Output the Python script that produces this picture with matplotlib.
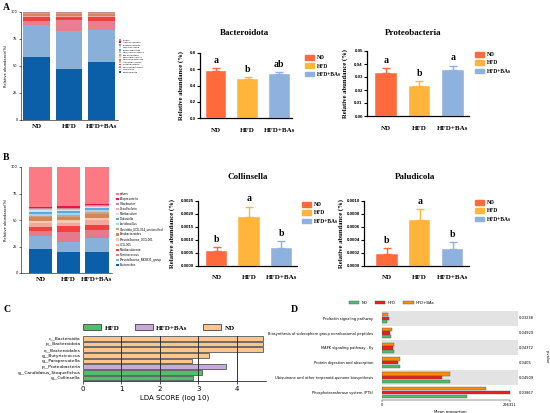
import matplotlib
matplotlib.use('Agg')
import matplotlib.pyplot as plt
import matplotlib.patches as mpatches
from matplotlib.ticker import FixedLocator
import numpy as np

# ---------------- data ----------------
groups = ['ND', 'HFD', 'HFD+BAs']
group_colors = ['#ff6a3d', '#ffb43c', '#8fb1dd']

# Panel A stacked (phylum), bottom -> top
phyla = ['Bacteroidota', 'Firmicutes', 'Desulfobacterota', 'Proteobacteria',
         'Actinobacteriota', 'Campilobacterota', 'Deferribacterota', 'Spirochaetota',
         'Verrucomicrobiota', 'Patescibacteria', 'Cyanobacteria', 'Elusimicrobiota',
         'Acidobacteriota', 'others']
phyla_nd = [58.4, 29.2, 4.0, 4.0, 1.0, 1.2, 0.4, 0.5, 0.3, 0.2, 0.2, 0.2, 0.2, 0.2]
phyla_hfd = [47.5, 34.8, 10.2, 3.1, 0.7, 1.5, 0.4, 0.5, 0.3, 0.2, 0.2, 0.2, 0.2, 0.2]
phyla_bas = [54.0, 29.0, 8.6, 4.0, 1.0, 1.2, 0.4, 0.5, 0.3, 0.2, 0.2, 0.2, 0.2, 0.2]
phyla_colors = ['#0b5fa8', '#89b0d8', '#e87f8f', '#f23f3d', '#f6a79c', '#d4855c',
                '#f6c8ae', '#c7a57f', '#a9d0ec', '#5aa9de', '#cfe2f0', '#c9879a',
                '#e0194a', '#f7707f']

# Panel B stacked (genus), bottom -> top
genera = ['Bacteroides', 'Prevotellaceae_NK3B31_group', 'Ruminococcus', 'Muribaculaceae',
          'UCG-005', 'Prevotellaceae_UCG-001', 'Parabacteroides',
          'Clostridia_UCG-014_unclassified', 'Lactobacillus', 'Dubosiella', 'Muribaculum',
          'Desulfovibrio', 'Odoribacter', 'Alloprevotella', 'others']
genera_nd = [22.5, 12.5, 4.5, 4.0, 3.5, 2.0, 3.5, 1.5, 2.0, 1.5, 1.5, 1.0, 1.0, 1.5, 37.5]
genera_hfd = [20.0, 9.7, 9.3, 5.0, 3.5, 2.5, 3.0, 1.5, 2.0, 2.0, 1.0, 1.0, 1.0, 1.5, 37.0]
genera_bas = [19.5, 13.5, 8.0, 4.0, 5.0, 2.0, 4.0, 1.5, 2.0, 2.0, 1.0, 1.0, 0.5, 1.5, 34.5]
genera_colors = ['#0b5fa8', '#89b0d8', '#e57a8c', '#f2413f', '#f6a79c', '#f6c8ae',
                 '#d4855c', '#c7a57f', '#a9d0ec', '#5aa9de', '#cfe2f0', '#f0b0b8',
                 '#c9879a', '#e0194a', '#fb7a84']

# Bar charts
bact_vals = [0.582, 0.476, 0.540]
bact_errs = [0.033, 0.024, 0.025]
bact_letters = ['a', 'b', 'ab']

prot_vals = [0.0333, 0.0233, 0.0354]
prot_errs = [0.0034, 0.0036, 0.0033]
prot_letters = ['a', 'b', 'a']

coll_vals = [0.00056, 0.00187, 0.00067]
coll_errs = [0.00017, 0.00041, 0.00028]
coll_letters = ['b', 'a', 'b']

palu_vals = [0.000176, 0.000706, 0.000258]
palu_errs = [0.000094, 0.000164, 0.000102]
palu_letters = ['b', 'a', 'b']

# Panel C LDA
lda_names = ['c__Bacteroidia', 'p__Bacteroidota', 'o__Bacteroidales', 'g__Butyricicoccus',
             'g__Paraprevotella', 'p__Proteobacteria', 'g__Candidatus_Stoquefichus',
             'g__Collinsella']
lda_vals = [4.67, 4.67, 4.67, 3.27, 2.84, 3.72, 3.09, 2.86]
lda_groups = ['ND', 'ND', 'ND', 'ND', 'ND', 'HFD+BAs', 'HFD', 'HFD']
lda_legend = ['HFD', 'HFD+BAs', 'ND']
lda_colors = {'HFD': '#4fbf6e', 'HFD+BAs': '#c9a9db', 'ND': '#ffc68c'}

# Panel D KEGG
kegg_names = ['Prolactin signaling pathway',
              'Biosynthesis of siderophore group nonribosomal peptides',
              'MAPK signaling pathway - fly',
              'Protein digestion and absorption',
              'Ubiquinone and other terpenoid-quinone biosynthesis',
              'Phosphotransferase system (PTS)']
kegg_nd = [12930, 21480, 29100, 42960, 157050, 197700]
kegg_hfd = [17550, 19170, 25400, 36950, 139260, 296300]
kegg_bas = [15240, 23100, 29100, 42260, 157740, 240200]
kegg_p = ['0.03238', '0.04929', '0.04372', '0.0405', '0.04509', '0.03867']
kegg_tick = 296311
kegg_colors = {'ND': '#4fbf6e', 'HFD': '#f01c1c', 'HFD+BAs': '#ff8c00'}

# ---------------- layout ----------------
W, H = 550, 413
fig = plt.figure(figsize=(5.5, 4.13), dpi=100)
fig.patch.set_facecolor('white')
SERIF = 'Liberation Serif'
SANS = 'Liberation Sans'


def box(x0, y0, x1, y1):
    return [x0 / W, 1 - y1 / H, (x1 - x0) / W, (y1 - y0) / H]


def fx(x):
    return x / W


def fy(y):
    return 1 - y / H


# panel letters
for lab, (x, y) in zip('ABCD', [(3, 8), (3, 158), (3, 309), (291, 309)]):
    fig.text(fx(x), fy(y), lab, fontsize=7, fontweight='bold', family=SERIF,
             va='center', ha='left')


def stacked(b, names, series, colors, xlim, leg_xy, leg_fs, leg_sp):
    ax = fig.add_axes(box(*b))
    bottom = np.zeros(3)
    handles = []
    for i, name in enumerate(names):
        v = np.array([s[i] for s in series])
        h = ax.bar(range(3), v, bottom=bottom, width=0.82, color=colors[i], label=name)
        handles.append(h)
        bottom += v
    ax.set_ylim(0, 100)
    ax.set_xlim(*xlim)
    ax.set_yticks([0, 25, 50, 75, 100])
    ax.tick_params(axis='y', labelsize=2.5, length=1.5, width=0.4, pad=1)
    ax.set_xticks(range(3))
    ax.set_xticklabels(groups, fontsize=5, fontweight='bold', family=SERIF)
    ax.tick_params(axis='x', length=0, pad=3)
    for s in ['top', 'right']:
        ax.spines[s].set_visible(False)
    for s in ['left', 'bottom']:
        ax.spines[s].set_linewidth(0.4)
    ax.set_ylabel('Relative abundance(%)', fontsize=2.6, labelpad=2)
    ax.legend(handles[::-1], names[::-1], loc='upper left',
              bbox_to_anchor=(fx(leg_xy[0]), fy(leg_xy[1])),
              bbox_transform=fig.transFigure, frameon=False, fontsize=leg_fs,
              handlelength=1.0, handleheight=0.8, labelspacing=leg_sp,
              handletextpad=0.5, borderpad=0, borderaxespad=0)
    return ax


stacked((21, 12, 118, 120), phyla, [phyla_nd, phyla_hfd, phyla_bas], phyla_colors,
        (-0.48, 2.51), (119, 39), 1.7, 0.28)
stacked((21, 167, 112, 273), genera, [genera_nd, genera_hfd, genera_bas], genera_colors,
        (-0.69, 2.53), (116, 192), 2.0, 0.38)


def barchart(b, vals, errs, letters, ymax, yticks, fmt, title, title_xy, xlim,
             ylabel_x, leg_xy):
    ax = fig.add_axes(box(*b))
    x = np.arange(3)
    for i in range(3):
        ax.bar(x[i], vals[i], width=0.65, color=group_colors[i], edgecolor='white',
               linewidth=0.3, label=groups[i], zorder=2)
        ax.errorbar(x[i], vals[i], yerr=[[0], [errs[i]]], fmt='none',
                    ecolor=group_colors[i], elinewidth=1.0, capsize=3.2,
                    capthick=1.0, zorder=3)
        ax.text(x[i], vals[i] + errs[i] + ymax * 0.05, letters[i], ha='center',
                va='bottom', fontsize=7, fontweight='bold', family=SERIF)
    ax.set_ylim(0, ymax)
    ax.set_xlim(*xlim)
    ax.set_yticks(yticks)
    ax.set_yticklabels([fmt.format(t) for t in yticks], fontsize=3.2,
                       fontweight='bold', family=SANS)
    ax.tick_params(axis='y', length=2, width=0.8, pad=1)
    ax.set_xticks(x)
    ax.set_xticklabels(groups, fontsize=5, fontweight='bold', family=SERIF)
    ax.tick_params(axis='x', length=0, pad=7)
    ax.xaxis.set_minor_locator(FixedLocator([1]))
    ax.tick_params(axis='x', which='minor', length=2, width=0.8)
    for s in ['top', 'right']:
        ax.spines[s].set_visible(False)
    for s in ['left', 'bottom']:
        ax.spines[s].set_linewidth(0.9)
    ax.set_ylabel('Relative abundance (%)', fontsize=4.8, fontweight='bold', family=SERIF)
    ax.yaxis.set_label_coords((ylabel_x - b[0]) / (b[2] - b[0]), 0.5)
    fig.text(fx(title_xy[0]), fy(title_xy[1]), title, ha='center', va='center',
             fontsize=6.5, fontweight='bold', family=SERIF)
    handles = [mpatches.Patch(color=c) for c in group_colors]
    ax.legend(handles, groups, loc='upper left',
              bbox_to_anchor=(fx(leg_xy[0]), fy(leg_xy[1])),
              bbox_transform=fig.transFigure, frameon=False,
              prop={'family': SERIF, 'weight': 'bold', 'size': 4.0},
              handlelength=1.6, handleheight=0.9, labelspacing=0.55,
              handletextpad=0.6, borderpad=0, borderaxespad=0)
    return ax


barchart((200, 53, 292, 118), bact_vals, bact_errs, bact_letters, 0.8,
         [0.0, 0.2, 0.4, 0.6, 0.8], '{:.1f}', 'Bacteroidota', (245, 33),
         (-0.5, 2.4), 184, (305, 55))
barchart((367, 51, 469, 116), prot_vals, prot_errs, prot_letters, 0.05,
         [0.0, 0.01, 0.02, 0.03, 0.04, 0.05], '{:.2f}', 'Proteobacteria', (413, 33),
         (-0.57, 2.49), 348, (475, 52))
barchart((198, 201, 297, 265.7), coll_vals, coll_errs, coll_letters, 0.0025,
         [0.0, 0.0005, 0.001, 0.0015, 0.002, 0.0025], '{:.4f}', 'Collinsella', (248, 177),
         (-0.57, 2.48), 175, (302, 202))
barchart((364, 201, 469, 265.7), palu_vals, palu_errs, palu_letters, 0.001,
         [0.0, 0.0002, 0.0004, 0.0006, 0.0008, 0.001], '{:.4f}', 'Paludicola', (415, 177),
         (-0.70, 2.50), 343.5, (475, 200))

# ---------------- Panel C ----------------
axc = fig.add_axes(box(82.7, 336, 266, 381))
yy = np.arange(len(lda_names))
axc.barh(yy, lda_vals, height=0.85, color=[lda_colors[g] for g in lda_groups],
         edgecolor='#555555', linewidth=0.6, zorder=2)
axc.set_ylim(len(lda_names) - 0.47, -0.4)
axc.set_xlim(0, 4.75)
axc.set_xticks([0, 1, 2, 3, 4])
for g in [1, 2, 3, 4]:
    axc.axvline(g, color='#333333', linewidth=0.7, zorder=3)
axc.set_yticks(yy)
axc.set_yticklabels(lda_names, fontsize=3.2)
axc.tick_params(axis='y', length=0, pad=1.5)
axc.tick_params(axis='x', labelsize=5, length=2, width=0.5, pad=1.5)
for s in ['top', 'right', 'left']:
    axc.spines[s].set_visible(False)
axc.spines['bottom'].set_linewidth(0.5)
axc.set_xlabel('LDA SCORE (log 10)', fontsize=5, labelpad=2)
ch = [mpatches.Patch(facecolor=lda_colors[g], edgecolor='#444444', linewidth=0.6)
      for g in lda_legend]
axc.legend(ch, lda_legend, loc='lower left', ncol=3,
           bbox_to_anchor=(fx(83), fy(330.5)), bbox_transform=fig.transFigure,
           frameon=False, prop={'family': SERIF, 'weight': 'bold', 'size': 5},
           handlelength=2.6, handleheight=0.9, columnspacing=2.2, handletextpad=0.5,
           borderpad=0, borderaxespad=0)

# ---------------- Panel D ----------------
axd = fig.add_axes(box(381.7, 310.7, 518.3, 400))
yk = np.arange(len(kegg_names))
xmax = kegg_tick * (518.3 - 381.7) / (510 - 381.7)
for i in yk:
    if i % 2 == 0:
        axd.axhspan(i - 0.5, i + 0.5, color='#e3e3e3', zorder=0, linewidth=0)
bh = 0.22
axd.barh(yk - 0.25, kegg_bas, height=bh, color=kegg_colors['HFD+BAs'],
         edgecolor='#555555', linewidth=0.3, zorder=2)
axd.barh(yk, kegg_hfd, height=bh, color=kegg_colors['HFD'],
         edgecolor='#555555', linewidth=0.3, zorder=2)
axd.barh(yk + 0.25, kegg_nd, height=bh, color=kegg_colors['ND'],
         edgecolor='#555555', linewidth=0.3, zorder=2)
axd.set_ylim(len(kegg_names) - 0.5, -0.5)
axd.set_xlim(0, xmax)
axd.set_yticks(yk)
axd.set_yticklabels(kegg_names, fontsize=2.6)
axd.tick_params(axis='y', length=0, pad=6)
axd.set_xticks([0, kegg_tick])
axd.set_xticklabels(['0', str(kegg_tick)], fontsize=2.6)
axd.tick_params(axis='x', length=1.5, width=0.3, pad=1)
for s in ['top', 'right', 'left']:
    axd.spines[s].set_visible(False)
axd.spines['bottom'].set_bounds(0, kegg_tick)
axd.spines['bottom'].set_linewidth(0.3)
axd.set_xlabel('Mean proportion', fontsize=2.8, labelpad=2)
for i, p in enumerate(kegg_p):
    axd.text(1.005, i, p, transform=axd.get_yaxis_transform(), fontsize=2.6,
             va='center', ha='left')
fig.text(fx(547), fy(357), 'p-value', rotation=270, fontsize=2.6, ha='center', va='center')
dh = [mpatches.Patch(facecolor=kegg_colors[g], edgecolor='#555555', linewidth=0.3)
      for g in ['ND', 'HFD', 'HFD+BAs']]
fig.legend(dh, ['ND', 'HFD', 'HFD+BAs'], loc='center left', ncol=3,
           bbox_to_anchor=(fx(349), fy(303)), frameon=False, fontsize=2.8,
           handlelength=2.6, handleheight=0.9, columnspacing=2.0, handletextpad=0.6,
           borderpad=0, borderaxespad=0)

fig.savefig('out.png', dpi=100, facecolor='white')
